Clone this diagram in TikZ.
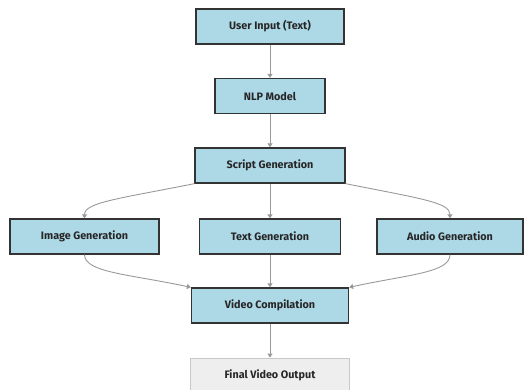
\documentclass[tikz,border=0pt]{standalone}
\usepackage{fontspec}
\setmainfont{Fira Sans}
\usetikzlibrary{arrows.meta}
\definecolor{boxfill}{HTML}{ADD8E6}
\definecolor{boxline}{HTML}{333333}
\definecolor{linkgray}{HTML}{999999}
\definecolor{outfill}{HTML}{EEEEEE}
\definecolor{outgray}{HTML}{C8C8C8}
\begin{document}
\begin{tikzpicture}[x=1pt,y=-1pt,>={Triangle[width=5pt,length=4pt]}]
	\clip (0,0) rectangle (530,389);
	\begin{scope}[every node/.style={rectangle,draw=boxline,fill=boxfill,line width=1.3pt,minimum height=35pt,inner sep=0pt,text=black!85,font=\bfseries\fontsize{10.8}{12}\selectfont}]
		\node[minimum width=148pt] (input) at (270,26.5) {User Input (Text)};
		\node[minimum width=110pt] (nlp) at (270,96) {NLP Model};
		\node[minimum width=150pt] (script) at (270,165.5) {Script Generation};
		\node[minimum width=149pt] (image) at (84.5,236.5) {Image Generation};
		\node[minimum width=141pt] (text) at (270,236.5) {Text Generation};
		\node[minimum width=146pt] (audio) at (450,236.5) {Audio Generation};
		\node[minimum width=157pt] (video) at (270,305.5) {Video Compilation};
		\node[minimum width=159pt,draw=outgray,fill=outfill,line width=0.8pt] (final) at (270,375.5) {Final Video Output};
	\end{scope}

	\begin{scope}[every edge/.style={draw=linkgray,line width=0.9pt}]
		\path [->] (input) edge (nlp);
		\path [->] (nlp) edge (script);
		\path [->] (script) edge (text);
		\path [->] (text) edge (video);
		\path [->] (video) edge (final);
	\end{scope}

	\begin{scope}[draw=linkgray,line width=0.9pt]
		\draw [->] (script.south west) .. controls +(-75,15) and +(0,-16) .. (image.north);
		\draw [->] (script.south east) .. controls +(75,15) and +(0,-16) .. (audio.north);
		\draw [->] (image.south) .. controls +(0,18) and +(-60,-13) .. (video.north west);
		\draw [->] (audio.south) .. controls +(0,18) and +(60,-13) .. (video.north east);
	\end{scope}
\end{tikzpicture}
\end{document}
